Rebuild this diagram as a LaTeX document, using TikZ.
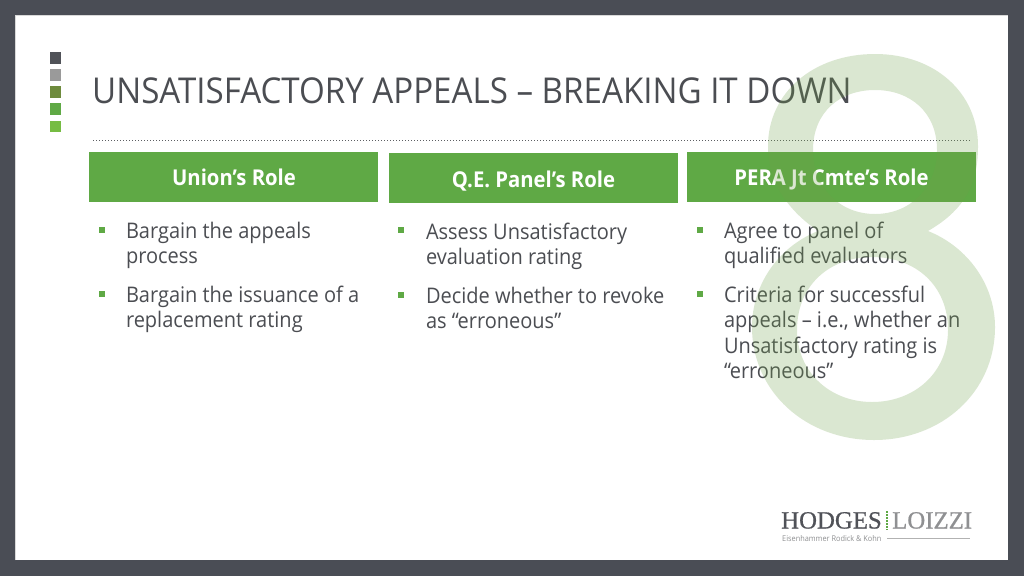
\documentclass[tikz,border=0pt]{standalone}
\usepackage{fontspec}
\setmainfont[FakeStretch=0.93]{Open Sans}
\newfontfamily\logoserif[FakeBold=0.7]{Liberation Serif}
\definecolor{frameC}{HTML}{4A4D55}
\definecolor{inkC}{HTML}{4B4D52}
\definecolor{bandC}{HTML}{5FA945}
\definecolor{eightC}{HTML}{6FA04A}
\definecolor{sqA}{HTML}{505258}
\definecolor{sqB}{HTML}{9A9A9A}
\definecolor{sqC}{HTML}{6E8B3D}
\definecolor{sqD}{HTML}{5FA945}
\definecolor{sqE}{HTML}{76BC43}
\definecolor{logoG}{HTML}{8F9092}
\tikzset{
  x=1pt,y=-1pt,
  band/.style={fill=bandC,draw=none,minimum width=289pt,minimum height=50pt,inner sep=0pt,outer sep=0pt},
  bandtxt/.style={anchor=base,inner sep=0pt,text=white,font=\fontsize{21.8}{26}\selectfont\bfseries},
  sq/.style={draw=none,minimum size=11.5pt,inner sep=0pt,outer sep=0pt},
  bul/.style={fill=bandC,draw=none,minimum size=6pt,inner sep=0pt,outer sep=0pt},
  body/.style={anchor=north west,inner sep=0pt,outer sep=0pt,align=left,text=inkC,
    font=\fontsize{21.5}{25.5}\selectfont},
}
\begin{document}
\begin{tikzpicture}
\useasboundingbox (0,0) rectangle (1024,576);
\fill[frameC] (0,0) rectangle (1024,576);
\fill[white] (15,15) rectangle (1008,560);
\draw[black!15,line width=1pt] (15,560) -- (15,15) -- (1008,15);
\node[sq,fill=sqA] (s1) at (55.3,57.8) {};
\node[sq,fill=sqB] (s2) at (55.3,74.8) {};
\node[sq,fill=sqC] (s3) at (55.3,92) {};
\node[sq,fill=sqD] (s4) at (55.3,109) {};
\node[sq,fill=sqE] (s5) at (55.3,126.3) {};
\node[anchor=base west,inner sep=0pt,text=inkC,font=\fontsize{35.6}{42}\selectfont] (title) at (92,103.5) {UNSATISFACTORY APPEALS -- BREAKING IT DOWN};
\coordinate (dl) at (93,140.5);
\coordinate (dr) at (971,140.5);
\draw[inkC!90,line width=1.5pt,dash pattern=on 1.3pt off 1.7pt] (dl) -- (dr);
\node[band] (b1) at (233.5,177) {};
\node[band] (b2) at (533.5,178) {};
\node[band] (b3) at (831.5,177) {};
\node[bandtxt] (t1) at (234,185.5) {Union’s Role};
\node[bandtxt] (t2) at (533.5,187) {Q.E. Panel’s Role};
\node[bandtxt] (t3) at (831.5,185) {PERA Jt Cmte’s Role};
\node[bul] (p1) at (102,230) {};
\node[bul] (p2) at (102,294) {};
\node[bul] (p3) at (401,230) {};
\node[bul] (p4) at (401,295) {};
\node[bul] (p5) at (700,230) {};
\node[bul] (p6) at (700,294) {};
\node[body] (a1) at (126,222) {Bargain the appeals\\process};
\node[body] (a2) at (126,286) {Bargain the issuance of a\\replacement rating};
\node[body] (a3) at (426,223) {Assess Unsatisfactory\\evaluation rating};
\node[body] (a4) at (426,287) {Decide whether to revoke\\as “erroneous”};
\node[body] (a5) at (724,222) {Agree to panel of\\qualified evaluators};
\node[body] (a6) at (724,286) {Criteria for successful\\appeals -- i.e., whether an\\Unsatisfactory rating is\\“erroneous”};
% logo
\node[anchor=base west,inner sep=0pt,text=sqA,font=\logoserif\fontsize{24.8}{28}\selectfont] (h) at (781,528.5) {HODGES};
\node[anchor=base west,inner sep=0pt,text=logoG,font=\logoserif\fontsize{24.8}{28}\selectfont] (l) at (892,528.5) {LOIZZI};
\coordinate (ga) at (887,511);
\coordinate (gb) at (887,530);
\draw[sqD,line width=2pt,dash pattern=on 2pt off 1pt] (ga) -- (gb);
\node[anchor=base west,inner sep=0pt,text=logoG,font=\fontsize{7.9}{9}\selectfont] (e) at (782,541) {Eisenhammer Rodick \& Kohn};
\coordinate (la) at (887,538);
\coordinate (lb) at (970,538);
\draw[black!30,line width=.8pt] (la) -- (lb);
% big 8 laid over everything
\fill[eightC,opacity=.25,even odd rule]
  (875,54) .. controls (935,54) and (978,93) .. (978,146)
  .. controls (978,180) and (968,208) .. (928,231)
  .. controls (968,247) and (995,285) .. (995,327)
  .. controls (995,392) and (942,440) .. (874,440)
  .. controls (806,440) and (752,392) .. (752,327)
  .. controls (752,285) and (778,247) .. (818,231)
  .. controls (785,208) and (768,180) .. (768,146)
  .. controls (768,93) and (813,54) .. (875,54) -- cycle
  (875,90) .. controls (840,90) and (813,112) .. (813,150)
  .. controls (813,188) and (840,214) .. (875,214)
  .. controls (910,214) and (937,188) .. (937,150)
  .. controls (937,112) and (910,90) .. (875,90) -- cycle
  (872,257) .. controls (830,257) and (797,285) .. (797,330)
  .. controls (797,372) and (830,402) .. (872,402)
  .. controls (915,402) and (948,372) .. (948,330)
  .. controls (948,285) and (915,257) .. (872,257) -- cycle;
\end{tikzpicture}
\end{document}
